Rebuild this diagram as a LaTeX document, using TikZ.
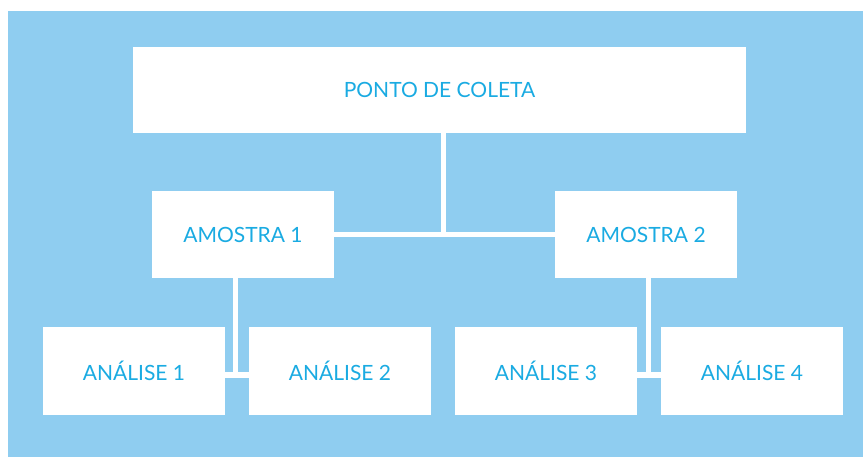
\documentclass[tikz,border=0pt]{standalone}
\usepackage{fontspec}
\setmainfont{Lato}
\definecolor{bgblue}{HTML}{8FCDF0}
\definecolor{txtblue}{HTML}{1AABE2}
\begin{document}
\begin{tikzpicture}[x=1pt,y=-1pt,
  box/.style={fill=white,draw=none,inner sep=0pt,text=txtblue,font=\fontsize{21}{25}\selectfont},
  conn/.style={draw=white,line width=5pt}]
\useasboundingbox (0,0) rectangle (863,457);
\fill[bgblue] (8,11) rectangle (863,457);
\node[box,minimum width=613pt,minimum height=86pt] (top) at (439.5,90) {PONTO DE COLETA};
\node[box,minimum width=182pt,minimum height=87pt] (am1) at (243,234.5) {AMOSTRA 1};
\node[box,minimum width=182pt,minimum height=87pt] (am2) at (646,234.5) {AMOSTRA 2};
\node[box,minimum width=182pt,minimum height=88pt] (an1) at (134,371) {ANÁLISE 1};
\node[box,minimum width=182pt,minimum height=88pt] (an2) at (340,371) {ANÁLISE 2};
\node[box,minimum width=182pt,minimum height=88pt] (an3) at (546,371) {ANÁLISE 3};
\node[box,minimum width=182pt,minimum height=88pt] (an4) at (752,371) {ANÁLISE 4};
\coordinate (j1) at (443,234.5);
\coordinate (j2) at (235.5,375);
\coordinate (j3) at (648,375);
\draw[conn] (am1.east) -- (am2.west);
\draw[conn] (top.south -| j1) -- (j1);
\draw[conn] (am1.south -| j2) -- (j2);
\draw[conn] (an1.east |- j2) -- (an2.west |- j2);
\draw[conn] (am2.south -| j3) -- (j3);
\draw[conn] (an3.east |- j3) -- (an4.west |- j3);
\end{tikzpicture}
\end{document}
